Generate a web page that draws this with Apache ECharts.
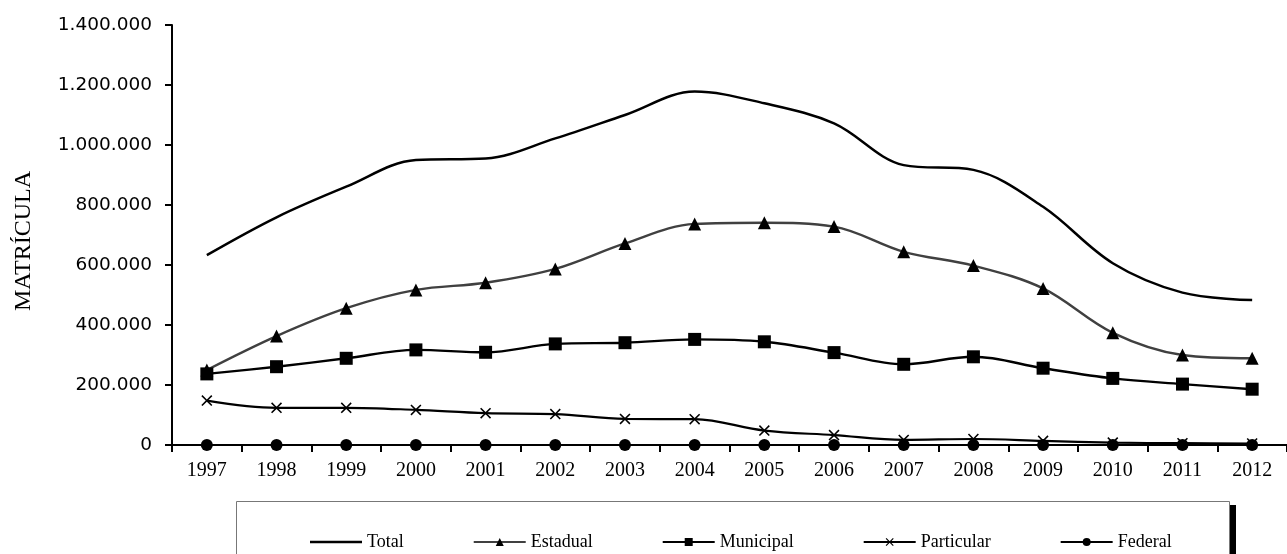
<!DOCTYPE html>
<html><head><meta charset="utf-8">
<script src="https://cdn.jsdelivr.net/npm/echarts@6/dist/echarts.min.js"></script>
<style>html,body{margin:0;padding:0;background:#fff}#c{width:1287px;height:554px}</style>
</head><body><div id="c"></div>
<script>
const years = ['1997','1998','1999','2000','2001','2002','2003','2004','2005','2006','2007','2008','2009','2010','2011','2012'];
const total = [633000,759000,861000,950000,955000,1022000,1100000,1178000,1139000,1072000,933000,917000,794000,606000,508000,483000];
const estadual = [250000,363000,456000,517000,541000,587000,672000,737000,741000,728000,644000,598000,522000,374000,300000,289000];
const municipal = [237000,261000,289000,317000,309000,337000,341000,352000,344000,308000,269000,294000,256000,222000,203000,186000];
const particular = [148000,124000,124000,117000,106000,103000,87000,86000,48000,33000,17000,20000,14000,8000,6000,5000];
const federal = [0,0,0,0,0,0,0,0,0,0,0,0,0,0,0,0];
const yTicks = {min:0, max:1400000, interval:200000};

const crossPath = 'path://M0,1 L1,0 L5,4 L9,0 L10,1 L6,5 L10,9 L9,10 L5,6 L1,10 L0,9 L4,5 Z';
const plainLine = 'path://M0,0 L0.05,0 L0.05,0.05 L0,0.05Z M0,3.7 L52,3.7 L52,6.3 L0,6.3Z M0,9.95 L0.05,9.95 L0.05,10 L0,10Z';
function fmt(v){return v===0?'0':String(v).replace(/\B(?=(\d{3})+(?!\d))/g,'.');}
const chart = echarts.init(document.getElementById('c'));
function ser(name,data,color,width,symbol,size){
  return {name,type:'line',data,smooth:0.35,symbol:symbol,symbolSize:size,showSymbol:symbol!=='none',
    lineStyle:{color,width},itemStyle:{color:'#000'},emphasis:{disabled:true},z: 3};
}
chart.setOption({
  animation:false,
  grid:{left:172,top:25,width:1123,height:420},
  xAxis:{type:'category',data:years,boundaryGap:true,
    axisLine:{lineStyle:{color:'#000',width:2}},
    axisTick:{show:true,inside:false,length:7,lineStyle:{color:'#000',width:2},alignWithLabel:false},
    axisLabel:{color:'#000',fontFamily:'Liberation Serif',fontSize:20,margin:16}},
  yAxis:{type:'value',min:yTicks.min,max:yTicks.max,interval:yTicks.interval,
    axisLine:{show:true,lineStyle:{color:'#000',width:2}},
    axisTick:{show:true,length:7,lineStyle:{color:'#000',width:2}},
    splitLine:{show:false},
    axisLabel:{color:'#000',fontFamily:'DejaVu Sans',fontSize:18.5,margin:20,formatter:fmt}},
  legend:{left:305,top:528,itemGap:69,itemWidth:52,itemHeight:10,
    textStyle:{color:'#000',fontFamily:'Liberation Serif',fontSize:18},
    data:[{name:'Total',icon:plainLine},'Estadual','Municipal','Particular','Federal']},
  graphic:[
    {type:'text',left:12,top:171,rotation:Math.PI/2,
      style:{text:'MATRÍCULA',fill:'#000',font:'24px "Liberation Serif"'},silent:true},
    {type:'rect',shape:{x:236.5,y:501.5,width:993,height:70},style:{fill:'none',stroke:'#777',lineWidth:1},silent:true},
    {type:'rect',shape:{x:1230,y:505,width:6,height:60},style:{fill:'#000'},silent:true}
  ],
  series:[
    ser('Total',total,'#000',2.5,'none',0),
    ser('Estadual',estadual,'#404040',2.4,'triangle',13),
    ser('Municipal',municipal,'#000',2.4,'rect',13),
    ser('Particular',particular,'#000',2.2,crossPath,11),
    ser('Federal',federal,'#000',1.3,'circle',12)
  ]
});
</script></body></html>
